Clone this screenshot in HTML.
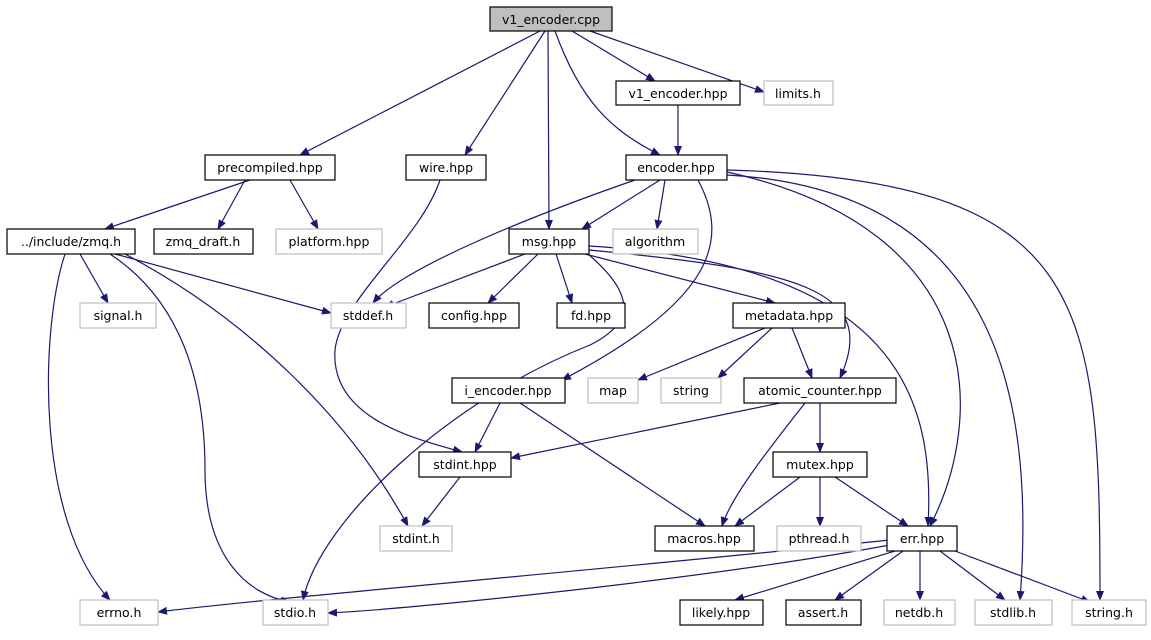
<!DOCTYPE html>
<html><head><meta charset="utf-8"><style>
html,body{margin:0;padding:0;background:#fff;}
svg text{font-family:"DejaVu Sans","Liberation Sans",sans-serif;font-size:12.5px;fill:#000;text-anchor:middle;}
</style></head><body>
<svg width="1151" height="635" viewBox="0 0 1151 635" xmlns="http://www.w3.org/2000/svg">
<defs><marker id="a" markerWidth="10" markerHeight="8" refX="9" refY="4" orient="auto" markerUnits="userSpaceOnUse"><path d="M0,0 L10,4 L0,8 z" fill="#191970"/></marker></defs>
<g fill="none" stroke="#191970" stroke-width="1.2" marker-end="url(#a)">
<path d="M540,31 L300,155"/>
<path d="M545,31 L465,155"/>
<path d="M548,31 L549,229"/>
<path d="M555,31 C580,100 610,130 660,155"/>
<path d="M572,31 L655,81"/>
<path d="M590,31 L764,92"/>
<path d="M678,105 L678,155"/>
<path d="M250,180 L105,229"/>
<path d="M245,180 L218,229"/>
<path d="M290,180 L318,229"/>
<path d="M440,180 C420,240 340,300 335,350 C330,420 420,440 462,452"/>
<path d="M660,180 L582,229"/>
<path d="M665,180 L657,229"/>
<path d="M635,180 C520,220 400,270 373,303"/>
<path d="M698,180 C730,240 715,300 562,380"/>
<path d="M727,172 C990,230 985,420 930,526"/>
<path d="M727,175 C1000,190 1035,400 1020,600"/>
<path d="M727,170 C1090,180 1100,300 1100,600"/>
<path d="M80,254 L108,303"/>
<path d="M115,254 L331,313"/>
<path d="M65,254 C40,330 35,520 110,600"/>
<path d="M110,254 C180,300 205,380 205,470 C205,560 250,595 290,602"/>
<path d="M125,254 C250,320 350,420 408,526"/>
<path d="M525,254 L385,307"/>
<path d="M538,254 L488,303"/>
<path d="M556,254 L572,303"/>
<path d="M585,254 L775,303"/>
<path d="M589,250 C800,270 880,290 840,378"/>
<path d="M589,246 C900,265 935,400 928,526"/>
<path d="M588,254 C630,290 640,320 590,345 C450,400 320,520 303,600"/>
<path d="M765,328 L638,380"/>
<path d="M772,328 L718,378"/>
<path d="M792,328 L812,378"/>
<path d="M500,403 L475,452"/>
<path d="M520,403 L705,526"/>
<path d="M780,403 L511,458"/>
<path d="M805,403 C760,460 730,500 722,526"/>
<path d="M820,403 L820,452"/>
<path d="M460,477 L422,526"/>
<path d="M800,477 L735,526"/>
<path d="M820,477 L820,526"/>
<path d="M835,477 L908,526"/>
<path d="M890,540 C600,570 250,600 158,612"/>
<path d="M890,545 C700,580 400,610 328,613"/>
<path d="M895,551 L735,600"/>
<path d="M903,551 L835,600"/>
<path d="M920,551 L920,600"/>
<path d="M940,551 L1005,600"/>
<path d="M955,551 L1090,602"/>
</g>
<g stroke-width="1.2">
<rect x="490" y="7" width="122" height="24" fill="#bfbfbf" stroke="#000"/>
<g fill="#fff" stroke="#000">
<rect x="616" y="81" width="124" height="24"/><rect x="205" y="155" width="130" height="25"/><rect x="406" y="155" width="80" height="25"/><rect x="626" y="155" width="101" height="25"/>
<rect x="7" y="229" width="128" height="25"/><rect x="154" y="229" width="99" height="25"/><rect x="509" y="229" width="80" height="25"/>
<rect x="429" y="303" width="90" height="25"/><rect x="557" y="303" width="68" height="25"/><rect x="733" y="303" width="112" height="25"/>
<rect x="452" y="378" width="113" height="25"/><rect x="744" y="378" width="152" height="25"/>
<rect x="419" y="452" width="92" height="25"/><rect x="773" y="452" width="94" height="25"/>
<rect x="655" y="526" width="99" height="25"/><rect x="887" y="526" width="70" height="25"/>
<rect x="680" y="600" width="83" height="25"/><rect x="786" y="600" width="75" height="25"/>
</g>
<g fill="#fff" stroke="#bfbfbf">
<rect x="764" y="81" width="69" height="24"/><rect x="276" y="229" width="106" height="25"/><rect x="613" y="229" width="85" height="25"/>
<rect x="80" y="303" width="76" height="25"/><rect x="331" y="303" width="75" height="25"/>
<rect x="588" y="378" width="50" height="25"/><rect x="661" y="378" width="60" height="25"/>
<rect x="380" y="526" width="72" height="25"/><rect x="777" y="526" width="84" height="25"/>
<rect x="80" y="600" width="78" height="25"/><rect x="263" y="600" width="65" height="25"/><rect x="884" y="600" width="71" height="25"/><rect x="975" y="600" width="77" height="25"/><rect x="1072" y="600" width="74" height="25"/>
</g>
</g>
<text x="551" y="24">v1_encoder.cpp</text>
<text x="678" y="98">v1_encoder.hpp</text><text x="798" y="98">limits.h</text>
<text x="270" y="172">precompiled.hpp</text><text x="446" y="172">wire.hpp</text><text x="676" y="172">encoder.hpp</text>
<text x="71" y="246">../include/zmq.h</text><text x="203" y="246">zmq_draft.h</text><text x="329" y="246">platform.hpp</text><text x="549" y="246">msg.hpp</text><text x="655" y="246">algorithm</text>
<text x="118" y="320">signal.h</text><text x="368" y="320">stddef.h</text><text x="474" y="320">config.hpp</text><text x="591" y="320">fd.hpp</text><text x="789" y="320">metadata.hpp</text>
<text x="508" y="395">i_encoder.hpp</text><text x="613" y="395">map</text><text x="691" y="395">string</text><text x="820" y="395">atomic_counter.hpp</text>
<text x="465" y="469">stdint.hpp</text><text x="820" y="469">mutex.hpp</text>
<text x="416" y="543">stdint.h</text><text x="704" y="543">macros.hpp</text><text x="819" y="543">pthread.h</text><text x="922" y="543">err.hpp</text>
<text x="119" y="617">errno.h</text><text x="295" y="617">stdio.h</text><text x="721" y="617">likely.hpp</text><text x="823" y="617">assert.h</text><text x="919" y="617">netdb.h</text><text x="1013" y="617">stdlib.h</text><text x="1109" y="617">string.h</text>
</svg>
</body></html>
